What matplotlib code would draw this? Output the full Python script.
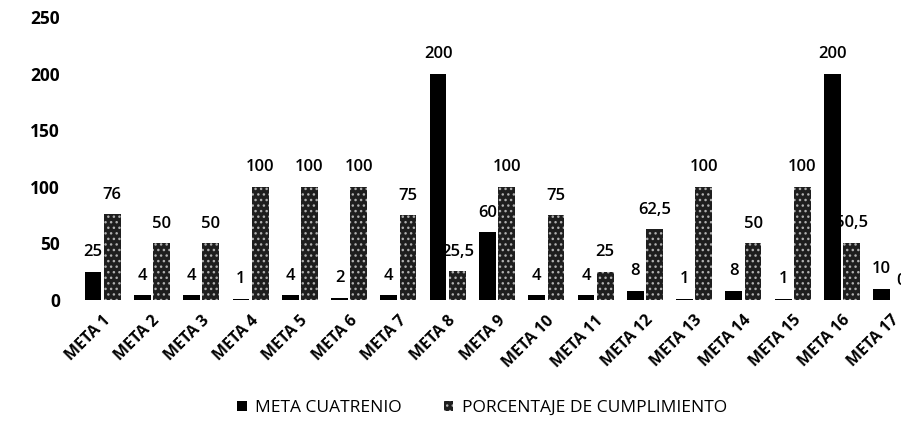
import matplotlib
matplotlib.use("Agg")
import matplotlib.pyplot as plt
import matplotlib.transforms as mtransforms
import numpy as np

plt.rcParams['font.family'] = ['Open Sans', 'DejaVu Sans']

categories = [f"META {i}" for i in range(1, 18)]
meta_cuatrenio = [25, 4, 4, 1, 4, 2, 4, 200, 60, 4, 4, 8, 1, 8, 1, 200, 10]
porcentaje = [76, 50, 50, 100, 100, 100, 75, 25.5, 100, 75, 25, 62.5, 100, 50, 100, 50.5, 0]
series_names = ["META CUATRENIO", "PORCENTAJE DE CUMPLIMIENTO"]
yticks = [0, 50, 100, 150, 200, 250]

def fmt(v):
    s = f"{v:g}"
    return s.replace(".", ",")

fig = plt.figure(figsize=(9.01, 4.32), dpi=100)
ax = fig.add_axes([78/901, 1-300/432, 838/901, 283/432])

x = np.arange(len(categories))
w = 0.34
off = 0.195
b1 = ax.bar(x - off, meta_cuatrenio, w, color='black', linewidth=0, zorder=3,
            label=series_names[0])
b2 = ax.bar(x + off, porcentaje, w, color='#1e1e1e', edgecolor='#b0b0b0', hatch='...',
            linewidth=0, zorder=3, label=series_names[1])

for bars, vals in ((b1, meta_cuatrenio), (b2, porcentaje)):
    for r, v in zip(bars, vals):
        ax.annotate(fmt(v), (r.get_x() + r.get_width()/2, r.get_height()),
                    xytext=(0, 14), textcoords='offset points', ha='center', va='center',
                    fontsize=12, fontweight='semibold', color='black', zorder=2)

ax.set_xlim(-0.5, len(categories) - 0.5)
ax.set_ylim(0, 250)
ax.set_yticks(yticks)
ax.set_yticklabels([str(t) for t in yticks], fontsize=12.5, fontweight='bold')
ax.set_xticks(x)
ax.set_xticklabels(categories, rotation=45, ha='right', rotation_mode='anchor',
                   fontsize=11.5, fontweight='bold')
shift = mtransforms.ScaledTranslation(-6/72, 0, fig.dpi_scale_trans)
for lab in ax.get_xticklabels():
    lab.set_transform(lab.get_transform() + shift)
ax.tick_params(axis='both', length=0)
ax.tick_params(axis='y', pad=13)
ax.tick_params(axis='x', pad=9)
for s in ax.spines.values():
    s.set_visible(False)

fig.legend(handles=[b1, b2], labels=series_names, loc='center', bbox_to_anchor=(482/901, 1-408/432),
           ncol=2, frameon=False, fontsize=12.5, handlelength=0.55, handleheight=0.55,
           handletextpad=0.5, columnspacing=2.4)

fig.savefig("out.png", dpi=100)
